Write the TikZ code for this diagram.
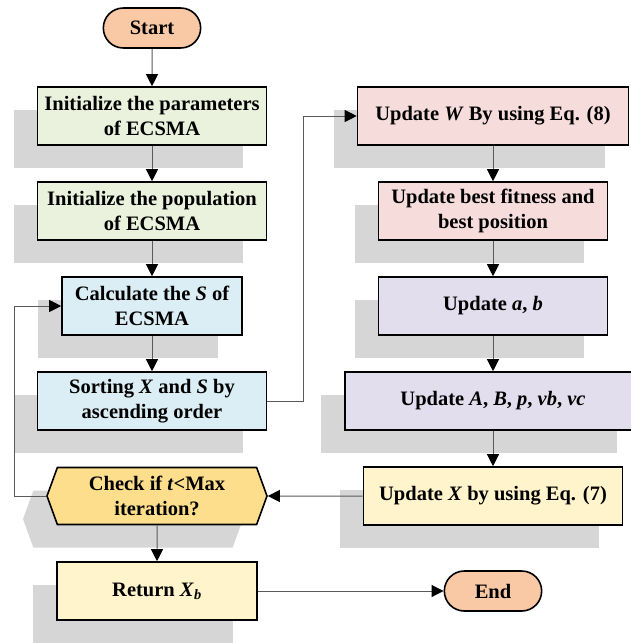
\documentclass[tikz,border=0pt]{standalone}
\usepackage{fontspec}
\setmainfont{Liberation Serif}
\usetikzlibrary{arrows.meta,shapes.misc,shapes.symbols,shadows}

\definecolor{termcol}{HTML}{F9C9A6}
\definecolor{greenbox}{HTML}{EAF1DC}
\definecolor{bluebox}{HTML}{DCEEF5}
\definecolor{goldbox}{HTML}{FDDE8C}
\definecolor{yellowbox}{HTML}{FFF4CB}
\definecolor{pinkbox}{HTML}{F6DDDC}
\definecolor{lilacbox}{HTML}{E2DEED}
\definecolor{shadowgray}{HTML}{D6D6D6}
\definecolor{linegray}{HTML}{5A5A5A}

\begin{document}
\begin{tikzpicture}[font=\bfseries\fontsize{20.5}{25}\selectfont, node distance=95pt,
	box/.style={rectangle,draw,line width=1.6pt,align=center,minimum height=58pt,inner sep=2pt,
		drop shadow={shadow xshift=-24pt,shadow yshift=-23pt,fill=shadowgray,opacity=1}},
	term/.style={rounded rectangle,draw,line width=1.6pt,fill=termcol,minimum width=104pt,minimum height=40pt},
	decide/.style={signal,signal to=east and west,signal pointer angle=140,draw,line width=1.6pt,
		align=center,minimum height=57pt,inner sep=2pt,
		drop shadow={shadow xshift=-24pt,shadow yshift=-23pt,fill=shadowgray,opacity=1}},
	flow/.style={draw=linegray,line width=1pt,-{Triangle[black,length=12pt,width=12pt]}}]
	\fill[white] (0,0) rectangle (630pt,-643pt);
	\useasboundingbox (0,0) rectangle (630pt,-643pt);

	% left column
	\node[term] (start) at (152pt,-28pt) {Start};
	\node[box,fill=greenbox,minimum width=229pt] (par) at (152pt,-116pt) {Initialize the parameters\\of ECSMA};
	\node[box,fill=greenbox,minimum width=229pt,below of=par] (pop) {Initialize the population\\of ECSMA};
	\node[box,fill=bluebox,minimum width=180pt,below of=pop] (calc) {Calculate the \textit{S} of\\ECSMA};
	\node[box,fill=bluebox,minimum width=229pt,below of=calc] (sort) {Sorting \textit{X} and \textit{S} by\\ascending order};
	\node[decide,fill=goldbox,minimum width=220pt,below of=sort,xshift=5pt] (check) {Check if \textit{t}<Max\\iteration?};
	\node[box,fill=yellowbox,minimum width=200pt,below of=check] (ret) {Return \textit{X}\textsubscript{\textit{b}}};

	% right column
	\node[box,fill=pinkbox,minimum width=271pt,right of=par,node distance=341pt] (upw) {Update \textit{W} By using Eq. (8)};
	\node[box,fill=pinkbox,minimum width=229pt,below of=upw] (best) {Update best fitness and\\best position};
	\node[box,fill=lilacbox,minimum width=229pt,below of=best] (upab) {Update \textit{a}, \textit{b}};
	\node[box,fill=lilacbox,minimum width=296pt,below of=upab] (upall) {Update \textit{A}, \textit{B}, \textit{p}, \textit{vb}, \textit{vc}};
	\node[box,fill=yellowbox,minimum width=259pt,below of=upall] (upx) {Update \textit{X} by using Eq. (7)};
	\node[term,right of=ret,node distance=336pt] (end) {End};

	\path (start) edge[flow] (par);
	\path (par) edge[flow] (pop);
	\path (pop) edge[flow] (calc);
	\path (calc) edge[flow] (sort);
	\path (check) edge[flow] (ret);
	\path (upw) edge[flow] (best);
	\path (best) edge[flow] (upab);
	\path (upab) edge[flow] (upall);
	\path (upall) edge[flow] (upx);
	\path (upx) edge[flow] (check);
	\path (ret) edge[flow] (end);
	\draw[flow] (sort.east) -- ++(36pt,0) |- (upw.west);
	\draw[flow] (check.west) -- ++(-32pt,0) |- (calc.west);
\end{tikzpicture}
\end{document}
